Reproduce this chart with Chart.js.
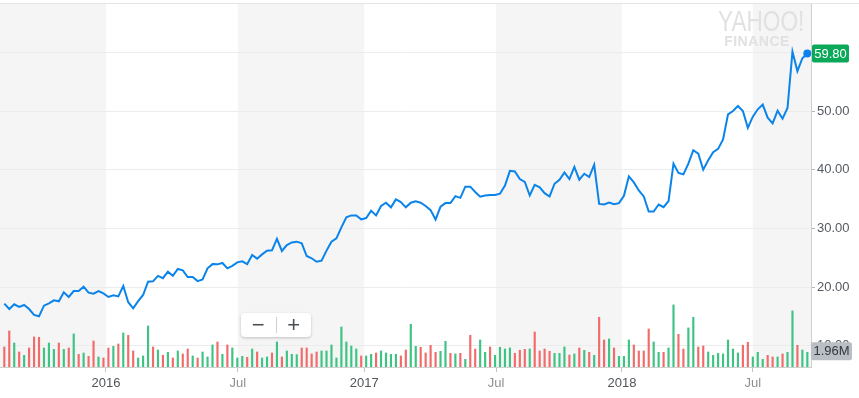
<!DOCTYPE html>
<html>
<head>
<meta charset="utf-8">
<script src="https://cdn.jsdelivr.net/npm/chart.js@4.4.1/dist/chart.umd.min.js"></script>
<style>
  body { margin: 0; background: #fff; font-family: "Liberation Sans", Arial, sans-serif; }
  #wrap { position: relative; width: 859px; height: 398px; }
  .logo { position: absolute; left: 707px; top: 8px; width: 100px; text-align: center; color: #e1e1e1; pointer-events: none; }
  .logo .y { font-size: 29px; line-height: 26px; transform: scaleX(0.78); }
  .logo .f { font-size: 14px; font-weight: bold; line-height: 14px; letter-spacing: 0.5px; }
  .zoom { position: absolute; left: 241px; top: 313px; width: 70px; height: 24px; background: #fff;
          border-radius: 4px; box-shadow: 0 1px 3px rgba(0,0,0,0.22); display: flex; align-items: center; }
  .zoom span { flex: 1; text-align: center; font-size: 22px; line-height: 22px; color: #4a4f55; }
  .zoom i { width: 1px; height: 16px; background: #cfcfcf; }
</style>
</head>
<body>
<div id="wrap">
  <canvas id="chart" width="859" height="398"></canvas>
  <div class="logo"><div class="y">YAHOO!</div><div class="f">FINANCE</div></div>
  <div class="zoom"><span>−</span><i></i><span>+</span></div>
</div>
<script>
// weekly data, index 0 = mid Aug 2015
const tickWeeks = [20.5, 47.1, 72.6, 99.2, 124.6, 151.0];
const tickLabels = ["2016", "Jul", "2017", "Jul", "2018", "Jul"];
const priceTicks = [10, 20, 30, 40, 50, 60];

const closePrice = [
  17.16, 16.25, 17.05, 16.6, 16.93, 16.25, 15.23, 15.0, 16.82, 17.2,
  17.73, 17.56, 19.09, 18.3, 19.3, 19.3, 20.06, 19.03, 18.86, 19.3,
  18.9, 18.3, 18.58, 18.4, 20.17, 17.4, 16.37, 17.6, 18.64, 20.9,
  20.97, 21.9, 21.5, 22.6, 21.9, 23.07, 22.84, 21.7, 21.7, 21.0,
  21.3, 23.18, 23.9, 23.86, 24.1, 23.18, 23.6, 24.2, 24.37, 23.9,
  25.45, 24.83, 25.56, 26.2, 26.25, 28.2,
  26.14, 27.16, 27.6, 27.73, 27.44, 25.28, 24.9, 24.3, 24.5, 26.2,
  27.73, 28.3, 30.17, 31.87, 32.2, 32.2, 31.53, 31.76, 33.0, 32.2,
  33.8, 34.37, 33.58, 34.94, 34.49, 33.58, 34.37, 34.6, 34.37, 33.8,
  33.1, 31.5, 33.7, 34.3, 34.3, 35.5, 35.2, 37.1, 37.1, 36.2,
  35.4, 35.6, 35.7, 35.7, 35.9, 37.3, 39.8, 39.7, 38.4, 37.9,
  35.6, 37.4, 37.0, 36.0,
  35.43, 37.6, 38.29, 39.54, 38.4, 40.46, 38.29, 39.31, 38.74, 40.86,
  34.17, 34.06, 34.4, 34.11, 34.29, 35.54, 38.86, 37.83, 36.46, 35.43,
  32.86, 32.86, 34.06, 33.6, 34.63, 41.03, 39.43, 39.2, 41.03, 43.31,
  42.74, 40.0, 41.6, 42.97, 43.54, 45.14, 49.43, 50.0, 50.86, 50.0,
  47.14, 49.03, 50.29, 51.09, 48.86, 47.89, 50.06, 48.69, 50.51, 60.11,
  56.8, 59.0, 59.8
];

// volume in millions
const volume = [
  2.67, 4.81, 3.20, 2.00, 1.56, 2.54, 4.01, 3.96, 2.54, 3.20,
  2.36, 3.20, 2.36, 2.54, 4.41, 1.69, 1.87, 1.42, 3.47, 1.34,
  1.20, 2.54, 2.76, 3.07, 4.54, 4.23, 2.14, 1.20, 1.47, 5.47,
  2.67, 2.27, 1.56, 1.96, 1.20, 2.14, 1.74, 2.40, 1.47, 1.20,
  2.00, 1.34, 2.94, 3.34, 1.69, 2.94, 2.54, 1.20, 1.42, 1.29,
  2.40, 2.00, 1.20, 1.34, 1.87, 3.34, 1.34, 2.14, 1.69, 1.65,
  2.54, 2.54, 1.74, 2.00, 2.14, 2.14, 2.94, 1.20, 5.34, 3.34,
  2.80, 2.40, 1.47, 1.47, 1.69, 1.87, 2.14, 1.87, 1.69, 1.69,
  1.47, 2.27, 5.70, 2.76, 2.63, 1.87, 2.89, 1.96, 2.09, 3.43,
  1.82, 1.74, 1.82, 1.02, 4.23, 2.40, 3.60, 1.96, 2.67, 1.56,
  2.63, 2.40, 2.54, 1.82, 2.23, 2.36, 2.40, 4.67, 2.14, 2.40,
  2.09, 1.82, 1.82, 2.67, 1.60, 1.74, 2.54, 2.23, 1.96, 1.56,
  6.63, 3.60, 3.74, 2.54, 1.42, 1.42, 3.60, 2.94, 2.14, 2.14,
  5.07, 3.34, 1.96, 1.96, 2.54, 8.28, 4.36, 2.40, 5.21, 6.63,
  2.67, 2.80, 2.00, 1.56, 1.82, 1.74, 3.60, 2.40, 1.87, 2.89,
  3.29, 1.34, 1.96, 1.02, 1.56, 1.34, 1.34, 1.74, 1.96, 7.48,
  2.89, 2.27, 1.96
];

// 1 = up week (green), 0 = down week (red)
const volumeUp = [
  0, 0, 1, 0, 1, 0, 0, 0, 1, 1,
  1, 0, 1, 0, 1, 0, 1, 0, 0, 1,
  0, 0, 1, 0, 1, 0, 0, 1, 1, 1,
  0, 1, 0, 1, 0, 1, 0, 0, 1, 0,
  1, 1, 1, 0, 1, 0, 1, 1, 1, 0,
  1, 0, 1, 1, 0, 1, 0, 1, 1, 1,
  0, 0, 0, 0, 1, 1, 1, 1, 1, 1,
  1, 1, 0, 1, 1, 0, 1, 1, 1, 1,
  0, 0, 1, 1, 0, 0, 0, 0, 1, 1,
  0, 1, 0, 1, 0, 0, 1, 1, 0, 1,
  1, 1, 1, 0, 0, 0, 1, 0, 0, 0,
  0, 1, 1, 1, 0, 1, 0, 1, 0, 1,
  0, 0, 1, 0, 1, 1, 1, 0, 0, 0,
  0, 1, 1, 0, 1, 1, 0, 0, 1, 1,
  0, 0, 1, 1, 1, 1, 1, 1, 1, 0,
  0, 1, 1, 1, 0, 0, 1, 0, 1, 1,
  0, 1, 1
];

Chart.defaults.font.family = '"Liberation Sans", Arial, sans-serif';

function tag(ctx, x, yc, w, h, fill, color, text) {
  ctx.fillStyle = fill;
  ctx.beginPath();
  ctx.roundRect(x, yc - h / 2, w, h, 2);
  ctx.fill();
  ctx.fillStyle = color;
  ctx.font = '13px "Liberation Sans", Arial, sans-serif';
  ctx.textBaseline = 'middle';
  ctx.textAlign = 'center';
  ctx.fillText(text, x + w / 2, yc + 0.5);
}

/* bandas de meio ano, ponto final e etiquetas de ultimo valor */
const decor = {
  id: 'decor',
  beforeDraw(chart) {
    const { ctx, chartArea: a, scales: { x } } = chart;
    const edges = [x.min, ...tickWeeks, x.max];
    ctx.save();
    ctx.fillStyle = '#f5f5f5';
    for (let k = 0; k < edges.length - 1; k += 2) {
      const x0 = x.getPixelForValue(edges[k]);
      const x1 = x.getPixelForValue(edges[k + 1]);
      ctx.fillRect(x0, a.top, x1 - x0, a.bottom - a.top);
    }
    ctx.restore();
  },
  afterDraw(chart) {
    const { ctx, chartArea: a, scales: { x, y, yv } } = chart;
    ctx.save();
    ctx.strokeStyle = '#e4e4e4';
    ctx.beginPath();
    ctx.moveTo(0, 3.5);
    ctx.lineTo(chart.width, 3.5);
    ctx.stroke();
    const n = closePrice.length - 1;
    const lastP = closePrice[n];
    const lastV = volume[volume.length - 1];
    ctx.fillStyle = '#0a84ea';
    ctx.beginPath();
    ctx.arc(x.getPixelForValue(n), y.getPixelForValue(lastP), 4, 0, Math.PI * 2);
    ctx.fill();
    tag(ctx, a.right + 1, y.getPixelForValue(lastP), 37, 18, '#0aa858', '#fff', lastP.toFixed(2));
    tag(ctx, a.right, yv.getPixelForValue(lastV) - 1, 41, 18, '#babec5', '#33383d', lastV.toFixed(2) + 'M');
    ctx.restore();
  }
};

new Chart(document.getElementById('chart'), {
  type: 'bar',
  data: {
    datasets: [
      {
        type: 'line',
        data: closePrice.map((v, i) => ({ x: i, y: v })),
        yAxisID: 'y',
        borderColor: '#0a84ea',
        borderWidth: 2,
        tension: 0,
        pointRadius: 0,
        order: 0
      },
      {
        type: 'bar',
        data: volume.map((v, i) => ({ x: i, y: v })),
        yAxisID: 'yv',
        backgroundColor: volumeUp.map(u => (u ? '#3dc384' : '#f26b6b')),
        barThickness: 1.5,
        order: 1
      }
    ]
  },
  options: {
    responsive: false,
    animation: false,
    devicePixelRatio: 1,
    layout: { padding: { top: 4, left: 0, right: 0, bottom: 0 } },
    plugins: { legend: { display: false }, tooltip: { enabled: false } },
    scales: {
      x: {
        type: 'linear',
        offset: false,
        min: -0.87,
        max: 162.74,
        afterBuildTicks: s => { s.ticks = tickWeeks.map(v => ({ value: v })); },
        afterFit: s => { s.height = 31; s.paddingLeft = 0; s.paddingRight = 0; },
        grid: { offset: false, drawOnChartArea: false, tickLength: 5, tickColor: '#c4c4c4' },
        border: { color: '#cfcfcf' },
        ticks: {
          autoSkip: false,
          maxRotation: 0,
          padding: 4,
          font: { size: 13 },
          color: c => (tickLabels[c.index] === 'Jul' ? '#8c9196' : '#50555a'),
          callback: (v, i) => tickLabels[i]
        }
      },
      y: {
        position: 'right',
        min: 6.364,
        max: 68.24,
        afterBuildTicks: s => { s.ticks = priceTicks.map(v => ({ value: v })); },
        afterFit: s => { s.width = 48; s.paddingTop = 0; s.paddingBottom = 0; },
        grid: { color: '#ececec', tickLength: 4, tickColor: '#b5b5b5' },
        border: { color: '#cfcfcf' },
        ticks: { padding: 2, font: { size: 13 }, color: '#555b61', callback: v => v.toFixed(2) }
      },
      yv: { display: false, min: 0, max: 48.4 }
    }
  },
  plugins: [decor]
});
</script>
</body>
</html>
